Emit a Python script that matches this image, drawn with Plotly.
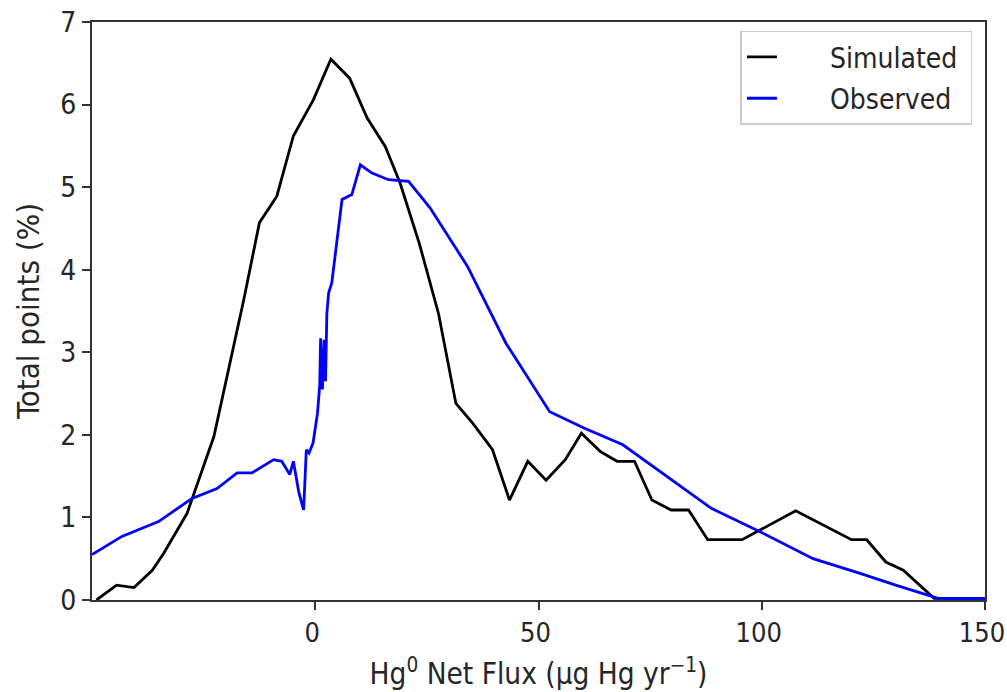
import plotly.graph_objects as go

# Simulated (black)
sim_x = [-49, -44.5, -40.6, -36.5, -33.9, -28.7, -22.7, -16.0, -12.5, -8.6, -4.9, -0.4, 3.5, 7.7,
         11.6, 15.7, 19.0, 23.3, 27.6, 31.5, 35.3, 39.7, 43.5, 47.6, 51.7, 56.0, 59.6, 63.8, 67.6,
         71.5, 75.4, 79.7, 83.6, 87.9, 95.6, 107.6, 120.1, 123.5, 127.8, 131.7, 138.6, 150]
sim_y = [0.0, 0.18, 0.15, 0.36, 0.57, 1.05, 1.98, 3.64, 4.57, 4.89, 5.62, 6.06, 6.55, 6.32,
         5.84, 5.49, 5.05, 4.32, 3.47, 2.38, 2.14, 1.82, 1.21, 1.68, 1.45, 1.70, 2.02, 1.80, 1.68,
         1.68, 1.21, 1.09, 1.09, 0.73, 0.73, 1.08, 0.73, 0.73, 0.46, 0.36, 0.02, 0.02]

# Observed (blue)
obs_x = [-50, -43.3, -35.1, -27.6, -22.0, -17.5, -14.2, -9.3, -7.5, -5.7, -4.9, -3.7, -2.6, -2.0,
         -1.4, -0.5, 0.5, 1.0, 1.2, 1.6, 2.0, 2.3, 2.6, 3.0, 3.7, 6.0, 8.2, 10.1, 12.7, 16.4, 20.9,
         25.7, 34.1, 42.7, 52.5, 60.3, 68.9, 88.7, 99.5, 111.5, 122.2, 130.0, 139.5, 150]
obs_y = [0.55, 0.77, 0.95, 1.23, 1.35, 1.54, 1.54, 1.70, 1.68, 1.52, 1.68, 1.31, 1.09, 1.82,
         1.78, 1.90, 2.26, 2.60, 3.17, 2.55, 3.15, 2.65, 3.47, 3.72, 3.84, 4.85, 4.91, 5.27, 5.17, 5.09, 5.07,
         4.75, 4.04, 3.11, 2.28, 2.08, 1.88, 1.11, 0.83, 0.50, 0.32, 0.18, 0.02, 0.02]

x_ticks = [0, 50, 100, 150]
y_ticks = [0, 1, 2, 3, 4, 5, 6, 7]

FONT = "DejaVu Sans Condensed, DejaVu Sans, sans-serif"
TXT = "#262626"
LEAD = "\u00a0" * 6
TRAIL = "\u00a0"

fig = go.Figure()
fig.add_trace(go.Scatter(x=sim_x, y=sim_y, mode="lines", name=LEAD + "Simulated" + TRAIL,
                         legendgroup="sim", line=dict(color="black", width=2.8)))
fig.add_trace(go.Scatter(x=obs_x, y=obs_y, mode="lines", name=LEAD + "Observed" + TRAIL,
                         legendgroup="obs", line=dict(color="#0000ff", width=2.8)))

axis_common = dict(showgrid=False, zeroline=False, showline=True, linecolor="#333333",
                   linewidth=2, mirror=True, ticks="outside", ticklen=8, tickwidth=1.5,
                   tickcolor="#333333", automargin=False, ticklabeloverflow="allow")

fig.update_layout(
    width=1007, height=692,
    margin=dict(l=92, r=22, t=22, b=92),
    paper_bgcolor="white", plot_bgcolor="white",
    font=dict(family=FONT, color=TXT),
    xaxis=dict(range=[-50, 150], tickvals=x_ticks, ticktext=[str(v) for v in x_ticks],
               tickfont=dict(family=FONT, size=27, color=TXT), ticklabelshift=-3,
               title=dict(text="Hg<sup>0</sup> Net Flux (µg Hg yr<sup>−1</sup>)",
                          font=dict(family=FONT, size=29.5, color=TXT), standoff=16),
               **axis_common),
    yaxis=dict(range=[0, 7], tickvals=y_ticks, ticktext=[str(v) for v in y_ticks],
               tickfont=dict(family=FONT, size=28, color=TXT),
               title=dict(text="Total points (%)", font=dict(family=FONT, size=31, color=TXT),
                          standoff=12),
               **axis_common),
    showlegend=True,
    legend=dict(x=0.986, y=0.985, xanchor="right", yanchor="top",
                bgcolor="white", bordercolor="#cccccc", borderwidth=1.5,
                font=dict(family=FONT, size=28, color=TXT), tracegroupgap=2),
)

fig.write_html("out.html")
